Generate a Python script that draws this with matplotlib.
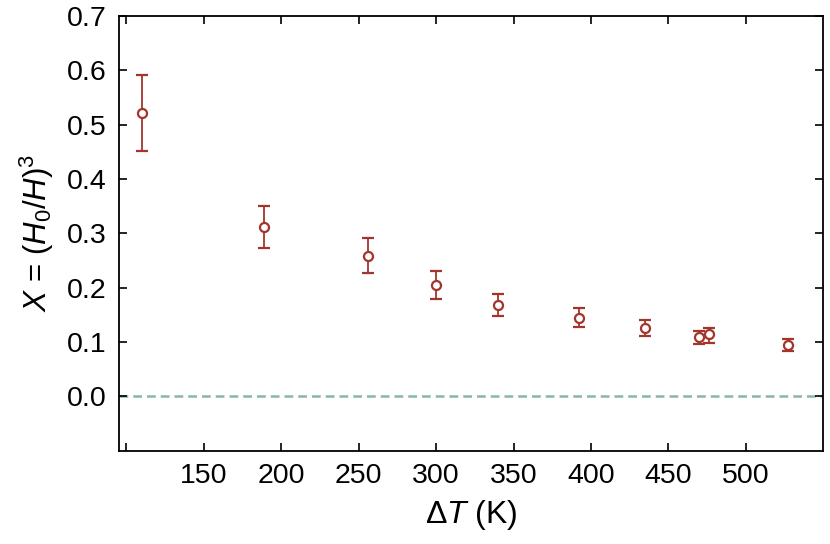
import matplotlib
matplotlib.use("Agg")
import matplotlib.pyplot as plt

plt.rcParams['font.family'] = ['Liberation Sans', 'DejaVu Sans']
plt.rcParams['mathtext.fontset'] = 'custom'
plt.rcParams['mathtext.rm'] = 'Liberation Sans'
plt.rcParams['mathtext.it'] = 'Liberation Sans:italic'

delta_T = [110, 189, 256, 300, 340, 392, 435, 470, 476, 527]
X_vals = [0.522, 0.312, 0.259, 0.205, 0.168, 0.145, 0.126, 0.109, 0.114, 0.095]
err_up = [0.069, 0.038, 0.032, 0.025, 0.020, 0.018, 0.015, 0.012, 0.012, 0.011]
err_dn = [0.070, 0.039, 0.032, 0.025, 0.020, 0.018, 0.015, 0.012, 0.015, 0.011]
xticks = [100, 150, 200, 250, 300, 350, 400, 450, 500]
xticklabels = ['', '150', '200', '250', '300', '350', '400', '450', '500']
yticks = [0.0, 0.1, 0.2, 0.3, 0.4, 0.5, 0.6, 0.7]

fig = plt.figure(figsize=(8.3, 5.44), dpi=100)
ax = fig.add_axes([0.1437, 0.1715, 0.992 - 0.1437, 0.9706 - 0.1715])

red = '#a3352c'
ax.axhline(0.0, color='#86b8a5', lw=1.8, ls=(0, (3.5, 2)), zorder=1)
ax.errorbar(delta_T, X_vals, yerr=[err_dn, err_up], fmt='o', ms=6.5,
            mfc='white', mec=red, mew=1.6, color=red, ecolor=red,
            elinewidth=1.3, capsize=4, capthick=1.3, zorder=3)

ax.set_xlim(95.5, 550)
ax.set_ylim(-0.1, 0.7)
ax.set_xticks(xticks)
ax.set_xticklabels(xticklabels)
ax.set_yticks(yticks)
ax.set_yticklabels([f'{v:.1f}' for v in yticks])
ax.tick_params(direction='in', length=6, width=1.2, top=True, right=True,
               labelsize=20.5, pad=9)
for s in ax.spines.values():
    s.set_linewidth(1.3)

ax.set_xlabel(r'$\Delta T$ (K)', fontsize=23, labelpad=6)
ax.set_ylabel(r'$X$ = ($H_0$/$H$)$^3$', fontsize=22.5, labelpad=8)

fig.savefig('out.png', dpi=100)
